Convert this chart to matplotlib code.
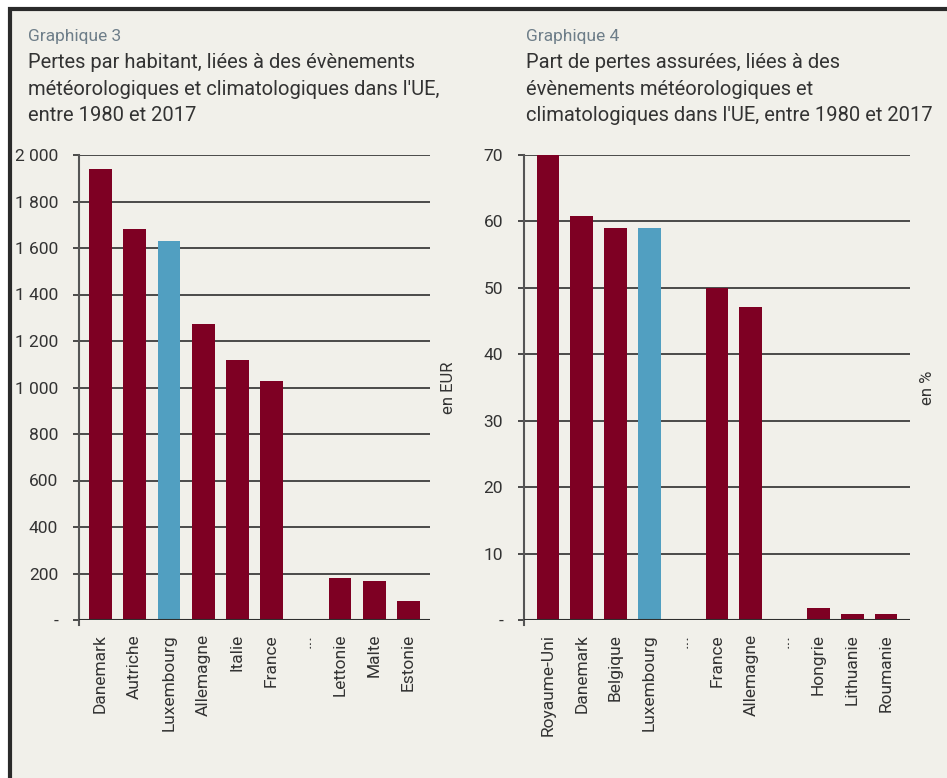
import matplotlib
matplotlib.use("Agg")
import matplotlib.pyplot as plt
from matplotlib.patches import Rectangle

# ---- data ----
left_categories = ["Danemark", "Autriche", "Luxembourg", "Allemagne", "Italie", "France",
                   "...", "Lettonie", "Malte", "Estonie"]
left_values = [1940, 1682, 1630, 1273, 1118, 1026, 0, 181, 168, 82]
left_ticks = [0, 200, 400, 600, 800, 1000, 1200, 1400, 1600, 1800, 2000]
left_ticklabels = ["-", "200", "400", "600", "800", "1 000", "1 200", "1 400", "1 600", "1 800", "2 000"]

right_categories = ["Royaume-Uni", "Danemark", "Belgique", "Luxembourg", "...", "France",
                    "Allemagne", "...", "Hongrie", "Lithuanie", "Roumanie"]
right_values = [70, 60.8, 59, 59, 0, 50, 47.1, 0, 1.8, 0.9, 0.9]
right_ticks = [0, 10, 20, 30, 40, 50, 60, 70]
right_ticklabels = ["-", "10", "20", "30", "40", "50", "60", "70"]

highlight = "Luxembourg"

left_title = ["Pertes par habitant, liées à des évènements",
              "météorologiques et climatologiques dans l'UE,",
              "entre 1980 et 2017"]
right_title = ["Part de pertes assurées, liées à des",
               "évènements météorologiques et",
               "climatologiques dans l'UE, entre 1980 et 2017"]

# ---- style ----
BG = "#F1F0EA"
RED = "#7E0023"
BLUE = "#519FC1"
GRID = "#2E2E2E"
TXT = "#333333"
SUB = "#6E7E89"
FONT = ["Roboto", "DejaVu Sans"]
plt.rcParams["font.family"] = FONT

W, H = 947, 778
fig = plt.figure(figsize=(W / 100, H / 100), dpi=100)
fig.patch.set_facecolor("white")

def px(x, y):
    return x / W, 1 - y / H

# background panel with frame on top and left
fig.patches.append(Rectangle(px(10, 790), (W + 20) / W, 781 / H, transform=fig.transFigure,
                             facecolor=BG, edgecolor="#2A2A2A", linewidth=3, zorder=-5))

def make_axes(rect_px, cats, vals, ticks, ticklabels, xpad, ylab, ylab_x):
    x0, y0, x1, y1 = rect_px
    ax = fig.add_axes([x0 / W, 1 - y1 / H, (x1 - x0) / W, (y1 - y0) / H])
    ax.set_zorder(2)
    ax.set_facecolor("none")
    n = len(cats)
    xs = list(range(n))
    colors = [BLUE if c == highlight else RED for c in cats]
    ax.bar(xs, vals, width=0.67, color=colors, zorder=3)
    ax.set_xlim(-xpad, n - 1 + xpad)
    ax.set_ylim(0, ticks[-1])
    ax.set_yticks(ticks)
    ax.set_yticklabels(ticklabels)
    ax.yaxis.grid(True, color=GRID, linewidth=1.2, zorder=0)
    ax.set_axisbelow(True)
    ax.tick_params(axis="y", length=4, width=1.2, color=GRID, pad=11, labelsize=12.5,
                   labelcolor=TXT)
    ax.set_xticks(xs)
    ax.set_xticklabels(cats, rotation=90)
    ax.tick_params(axis="x", length=0, pad=10, labelsize=12.5, labelcolor=TXT)
    for s in ["top", "right", "bottom"]:
        ax.spines[s].set_visible(False)
    ax.spines["left"].set_color("#555555")
    ax.spines["left"].set_linewidth(1.5)
    ax.spines["left"].set_bounds(-ticks[-1] * 0.01, ticks[-1])
    ax.axhline(0, color=GRID, linewidth=1.5, zorder=4)
    fig.text(*px(ylab_x, (y0 + y1) / 2), ylab, rotation=90, ha="center", va="center",
             fontsize=12, color=TXT)
    return ax

make_axes((79, 155, 430, 620), left_categories, left_values, left_ticks, left_ticklabels,
          0.63, "en EUR", 448)
make_axes((524, 155, 910, 620), right_categories, right_values, right_ticks, right_ticklabels,
          0.71, "en %", 927)

# titles
baselines = [68, 95, 121]
fig.text(*px(28, 41), "Graphique 3", fontsize=12.5, color=SUB, va="baseline")
fig.text(*px(526, 41), "Graphique 4", fontsize=12.5, color=SUB, va="baseline")
for line, yb in zip(left_title, baselines):
    fig.text(*px(28, yb), line, fontsize=14.5, color=TXT, va="baseline")
for line, yb in zip(right_title, baselines):
    fig.text(*px(526, yb), line, fontsize=14.5, color=TXT, va="baseline")

fig.savefig("out.png", dpi=100, facecolor=fig.get_facecolor())
